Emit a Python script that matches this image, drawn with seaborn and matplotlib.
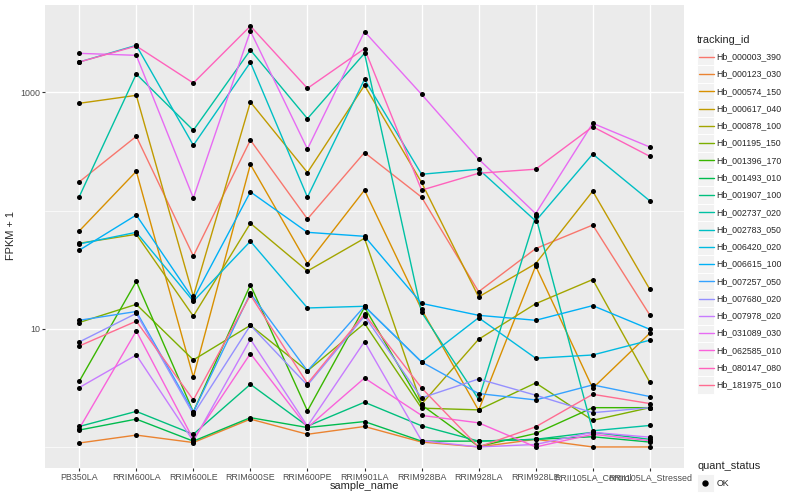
import numpy as np
import pandas as pd
import matplotlib
matplotlib.use("Agg")
import matplotlib.pyplot as plt
import matplotlib.ticker as mticker
from matplotlib.lines import Line2D
from matplotlib.patches import Rectangle
import seaborn as sns

samples = ["PB350LA", "RRIM600LA", "RRIM600LE", "RRIM600SE", "RRIM600PE",
           "RRIM901LA", "RRIM928BA", "RRIM928LA", "RRIM928LE",
           "RRII105LA_Control", "RRII105LA_Stressed"]

tracking_ids = ["Hb_000003_390", "Hb_000123_030", "Hb_000574_150", "Hb_000617_040",
                "Hb_000878_100", "Hb_001195_150", "Hb_001396_170", "Hb_001493_010",
                "Hb_001907_100", "Hb_002737_020", "Hb_002783_050", "Hb_006420_020",
                "Hb_006615_100", "Hb_007257_050", "Hb_007680_020", "Hb_007978_020",
                "Hb_031089_030", "Hb_062585_010", "Hb_080147_080", "Hb_181975_010"]

# FPKM + 1, one value per sample
hb_000003_390 = [175, 425, 41.3, 395, 84.9, 310, 130, 20.6, 47.7, 75.5, 13.1]
hb_000123_030 = [1.08, 1.26, 1.09, 1.72, 1.28, 1.49, 1.10, 1.0, 1.16, 1.0, 1.0]
hb_000574_150 = [67.2, 215, 3.89, 246, 35.6, 149, 14.6, 2.04, 34.0, 3.14, 9.16]
hb_000617_040 = [809, 945, 18.8, 829, 210, 1148, 173, 18.6, 35.6, 146, 21.6]
hb_000878_100 = [52.9, 63.0, 12.8, 78.1, 30.8, 58.3, 2.30, 8.15, 16.3, 26.1, 3.53]
hb_001195_150 = [11.3, 16.1, 5.45, 10.7, 4.40, 11.1, 2.13, 2.06, 3.48, 1.68, 2.15]
hb_001396_170 = [3.59, 25.2, 1.98, 23.5, 2.02, 15.2, 2.27, 1.01, 1.30, 2.15, 2.15]
hb_001493_010 = [1.39, 1.72, 1.12, 1.77, 1.46, 1.64, 1.12, 1.12, 1.16, 1.22, 1.10]
hb_001907_100 = [1.49, 2.00, 1.28, 3.39, 1.50, 2.39, 1.51, 1.12, 1.16, 1.33, 1.16]
hb_002737_020 = [131, 1431, 478, 2284, 600, 2142, 13.8, 2.53, 90.0, 1.37, 1.52]
hb_002783_050 = [1808, 2503, 357, 1797, 130, 1291, 203, 224, 81.7, 301, 121]
hb_006420_020 = [52.2, 65.5, 17.1, 55.0, 15.0, 15.5, 5.24, 12.4, 5.63, 6.00, 8.0]
hb_006615_100 = [46.2, 91.8, 17.8, 144, 65.5, 60.6, 16.4, 13.0, 11.8, 15.7, 9.9]
hb_007257_050 = [11.8, 14.0, 1.98, 19.9, 4.40, 15.5, 5.24, 2.83, 2.50, 3.35, 2.67]
hb_007680_020 = [7.73, 13.5, 1.89, 10.7, 3.33, 12.8, 2.60, 3.76, 2.74, 1.95, 2.15]
hb_007978_020 = [3.18, 6.00, 1.12, 8.15, 1.50, 7.79, 1.13, 1.0, 1.05, 1.33, 1.21]
hb_031089_030 = [2142, 2060, 128, 3305, 332, 3268, 964, 273, 94.3, 548, 345]
hb_062585_010 = [1.43, 9.58, 1.16, 6.17, 1.46, 3.83, 1.85, 1.60, 1.0, 1.28, 1.13]
hb_080147_080 = [1808, 2469, 1201, 3645, 1083, 2347, 149, 207, 224, 513, 288]
hb_181975_010 = [7.15, 11.6, 2.50, 19.3, 3.44, 13.3, 3.16, 1.0, 1.48, 2.79, 2.33]

series = [hb_000003_390, hb_000123_030, hb_000574_150, hb_000617_040,
          hb_000878_100, hb_001195_150, hb_001396_170, hb_001493_010,
          hb_001907_100, hb_002737_020, hb_002783_050, hb_006420_020,
          hb_006615_100, hb_007257_050, hb_007680_020, hb_007978_020,
          hb_031089_030, hb_062585_010, hb_080147_080, hb_181975_010]

quant_status = "OK"

rows = []
for tid, vals in zip(tracking_ids, series):
    for s, v in zip(samples, vals):
        rows.append((tid, s, v, quant_status))
df = pd.DataFrame(rows, columns=["tracking_id", "sample_name", "fpkm1", "quant_status"])

# ggplot2 default hue palette for 20 levels
hue_colors = ["#F8766D", "#EA8331", "#D89000", "#C09B00", "#A3A500", "#7CAE00",
              "#39B600", "#00BB4E", "#00BF7D", "#00C1A3", "#00BFC4", "#00BAE0",
              "#00B0F6", "#35A2FF", "#9590FF", "#C77CFF", "#E76BF3", "#FA62DB",
              "#FF62BC", "#FF6C91"]

sns.set_style("white")
plt.rcParams["font.family"] = ["Liberation Sans", "DejaVu Sans"]

W, H = 800, 500
fig = plt.figure(figsize=(8, 5), dpi=100)

def px(x, y):
    return (x / W, 1 - y / H)

ax = fig.add_axes([45 / W, 1 - 468 / H, (684 - 45) / W, (468 - 5) / H])
ax.set_facecolor("#EBEBEB")

sns.lineplot(data=df, x="sample_name", y="fpkm1", hue="tracking_id",
             hue_order=tracking_ids, palette=hue_colors, estimator=None,
             sort=False, legend=False, linewidth=1.0, ax=ax)
sns.scatterplot(data=df, x="sample_name", y="fpkm1", color="black", s=13,
                linewidth=0, legend=False, ax=ax, zorder=3)

ax.set_yscale("log")
lo, hi = np.log10(df.fpkm1.min()), np.log10(df.fpkm1.max())
pad = 0.05 * (hi - lo)
ax.set_ylim(10 ** (lo - pad), 10 ** (hi + pad))
ax.set_xlim(-0.6, len(samples) - 0.4)

ax.yaxis.set_major_locator(mticker.FixedLocator([10, 1000]))
ax.yaxis.set_major_formatter(mticker.FixedFormatter(["10", "1000"]))
ax.yaxis.set_minor_locator(mticker.FixedLocator([1, 100]))
ax.yaxis.set_minor_formatter(mticker.NullFormatter())

ax.set_axisbelow(True)
ax.grid(which="major", color="white", linewidth=1.0)
ax.grid(which="minor", axis="y", color="white", linewidth=0.5)
for sp in ax.spines.values():
    sp.set_visible(False)
ax.tick_params(axis="both", which="major", length=2, width=0.8, color="#333333",
               labelsize=6.4, labelcolor="#4D4D4D", pad=1.6,
               left=True, bottom=True)
ax.tick_params(axis="y", which="minor", length=0)
ax.set_xlabel("")
ax.set_ylabel("")

fig.text(*px(364.5, 486), "sample_name", ha="center", va="center", fontsize=7.9)
fig.text(*px(11, 236), "FPKM + 1", ha="center", va="center", rotation=90, fontsize=7.9)

# legend: tracking_id
key = 17.28
fig.text(*px(697, 40), "tracking_id", ha="left", va="center", fontsize=7.9)
for i, (tid, col) in enumerate(zip(tracking_ids, hue_colors)):
    cy = 56.7 + i * key
    fig.add_artist(Rectangle(px(696.7, cy + key / 2), key / W, key / H,
                             transform=fig.transFigure, facecolor="#F2F2F2",
                             edgecolor="white", linewidth=0.7))
    fig.add_artist(Line2D([698.5 / W, 714 / W], [1 - cy / H] * 2, color=col,
                          linewidth=1.0, transform=fig.transFigure))
    fig.text(*px(716.7, cy), tid, ha="left", va="center", fontsize=6.34)

# legend: quant_status
fig.text(*px(697, 466), "quant_status", ha="left", va="center", fontsize=7.9)
cy = 483
fig.add_artist(Rectangle(px(696.7, cy + key / 2), key / W, key / H,
                         transform=fig.transFigure, facecolor="#F2F2F2",
                         edgecolor="white", linewidth=0.7))
fig.add_artist(Line2D([705.3 / W], [1 - cy / H], marker="o", markersize=3.6,
                      color="black", linestyle="none", transform=fig.transFigure))
fig.text(*px(716.7, cy), quant_status, ha="left", va="center", fontsize=6.34)

fig.savefig("out.png", dpi=100)
